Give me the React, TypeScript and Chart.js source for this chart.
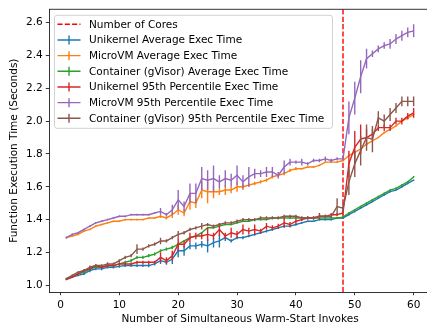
import React, { useEffect, useRef } from "react";
import { Chart, registerables } from "chart.js";

Chart.register(...registerables);

const INVOKES = [
  1, 2, 3, 4, 5, 6, 7, 8, 9, 10, 11, 12, 13, 14, 15, 16, 17, 18, 19, 20,
  21, 22, 23, 24, 25, 26, 27, 28, 29, 30, 31, 32, 33, 34, 35, 36, 37, 38, 39, 40,
  41, 42, 43, 44, 45, 46, 47, 48, 49, 50, 51, 52, 53, 54, 55, 56, 57, 58, 59, 60,
];

const NUM_CORES = 48;

const UNIKERNEL_AVG = [
  1.04, 1.05, 1.06, 1.07, 1.09, 1.1, 1.1, 1.11, 1.11, 1.115, 1.12, 1.12, 1.12, 1.12, 1.12, 1.13, 1.15, 1.14, 1.16, 1.21,
  1.21, 1.24, 1.24, 1.25, 1.24, 1.26, 1.27, 1.29, 1.27, 1.29, 1.29, 1.3, 1.31, 1.32, 1.33, 1.34, 1.35, 1.36, 1.36, 1.37,
  1.38, 1.39, 1.39, 1.4, 1.4, 1.4, 1.41, 1.41, 1.43, 1.45, 1.47, 1.49, 1.51, 1.53, 1.55, 1.57, 1.58, 1.6, 1.62, 1.64,
];
const UNIKERNEL_AVG_ERR = [
  0.005, 0.005, 0.005, 0.008, 0.01, 0.008, 0.008, 0.008, 0.008, 0.008, 0.008, 0.008, 0.008, 0.008, 0.01, 0.01, 0.02, 0.015, 0.03, 0.04,
  0.03, 0.02, 0.02, 0.02, 0.04, 0.03, 0.04, 0.02, 0.01, 0.01, 0.01, 0.008, 0.008, 0.008, 0.008, 0.008, 0.008, 0.008, 0.008, 0.008,
  0.005, 0.005, 0.005, 0.005, 0.005, 0.005, 0.005, 0.005, 0.005, 0.005, 0.005, 0.005, 0.005, 0.005, 0.005, 0.005, 0.005, 0.005, 0.005, 0.005,
];

const MICROVM_AVG = [
  1.29, 1.3, 1.31, 1.33, 1.34, 1.36, 1.37, 1.38, 1.39, 1.39, 1.4, 1.4, 1.4, 1.4, 1.41, 1.41, 1.42, 1.41, 1.43, 1.46,
  1.44, 1.51, 1.5, 1.58, 1.57, 1.57, 1.57, 1.58, 1.58, 1.6, 1.6, 1.61, 1.62, 1.63, 1.64, 1.66, 1.67, 1.68, 1.7, 1.71,
  1.71, 1.72, 1.72, 1.73, 1.75, 1.75, 1.75, 1.76, 1.79, 1.81, 1.83, 1.86, 1.88, 1.9, 1.93, 1.95, 1.97, 2.0, 2.02, 2.04,
];
const MICROVM_AVG_ERR = [
  0.005, 0.005, 0.005, 0.005, 0.005, 0.005, 0.005, 0.005, 0.005, 0.005, 0.005, 0.005, 0.005, 0.005, 0.005, 0.005, 0.01, 0.01, 0.02, 0.03,
  0.02, 0.05, 0.03, 0.05, 0.07, 0.04, 0.02, 0.03, 0.02, 0.03, 0.02, 0.01, 0.01, 0.01, 0.01, 0.01, 0.01, 0.01, 0.01, 0.01,
  0.005, 0.005, 0.005, 0.005, 0.005, 0.005, 0.005, 0.005, 0.005, 0.005, 0.005, 0.005, 0.005, 0.005, 0.005, 0.005, 0.005, 0.005, 0.005, 0.005,
];

const CONTAINER_AVG = [
  1.04, 1.05, 1.07, 1.08, 1.1, 1.11, 1.11, 1.12, 1.12, 1.13, 1.14, 1.15, 1.17, 1.17, 1.18, 1.19, 1.21, 1.22, 1.23, 1.25,
  1.27, 1.29, 1.3, 1.32, 1.35, 1.35, 1.36, 1.37, 1.37, 1.38, 1.39, 1.39, 1.4, 1.4, 1.4, 1.41, 1.41, 1.41, 1.41, 1.41,
  1.41, 1.41, 1.41, 1.41, 1.41, 1.41, 1.41, 1.415, 1.44, 1.46, 1.48, 1.5, 1.52, 1.54, 1.56, 1.58, 1.59, 1.61, 1.63, 1.66,
];
const CONTAINER_AVG_ERR = [
  0.005, 0.005, 0.005, 0.005, 0.005, 0.005, 0.005, 0.005, 0.008, 0.01, 0.01, 0.01, 0.01, 0.01, 0.01, 0.01, 0.01, 0.01, 0.01, 0.01,
  0.005, 0.005, 0.005, 0.005, 0.005, 0.005, 0.005, 0.005, 0.005, 0.005, 0.005, 0.005, 0.005, 0.005, 0.005, 0.005, 0.005, 0.005, 0.005, 0.005,
  0.005, 0.005, 0.005, 0.005, 0.005, 0.005, 0.005, 0.005, 0.005, 0.005, 0.005, 0.005, 0.005, 0.005, 0.005, 0.005, 0.005, 0.005, 0.005, 0.005,
];

const UNIKERNEL_P95 = [
  1.035, 1.05, 1.07, 1.09, 1.1, 1.12, 1.11, 1.12, 1.12, 1.13, 1.13, 1.13, 1.14, 1.14, 1.14, 1.14, 1.17, 1.15, 1.18, 1.25,
  1.25, 1.29, 1.3, 1.3, 1.31, 1.3, 1.34, 1.3, 1.32, 1.31, 1.34, 1.33, 1.34, 1.33, 1.36, 1.35, 1.36, 1.38, 1.37, 1.39,
  1.4, 1.41, 1.41, 1.42, 1.42, 1.43, 1.43, 1.44, 1.74, 1.84, 1.89, 1.9, 1.92, 1.96, 1.96, 1.96, 2.0, 2.0, 2.03, 2.05,
];
const UNIKERNEL_P95_ERR = [
  0.005, 0.005, 0.005, 0.008, 0.008, 0.008, 0.008, 0.008, 0.008, 0.008, 0.008, 0.008, 0.01, 0.01, 0.01, 0.01, 0.03, 0.02, 0.03, 0.04,
  0.02, 0.03, 0.02, 0.02, 0.04, 0.02, 0.04, 0.02, 0.03, 0.02, 0.03, 0.02, 0.03, 0.015, 0.02, 0.015, 0.015, 0.03, 0.015, 0.015,
  0.01, 0.01, 0.01, 0.02, 0.01, 0.01, 0.01, 0.01, 0.08, 0.1, 0.09, 0.05, 0.03, 0.02, 0.02, 0.02, 0.02, 0.02, 0.02, 0.03,
];

const MICROVM_P95 = [
  1.29, 1.31, 1.32, 1.34, 1.36, 1.38, 1.39, 1.4, 1.41, 1.42, 1.42, 1.43, 1.43, 1.43, 1.43, 1.44, 1.45, 1.43, 1.46, 1.52,
  1.48, 1.56, 1.56, 1.65, 1.64, 1.65, 1.63, 1.65, 1.64, 1.67, 1.63, 1.66, 1.68, 1.68, 1.69, 1.69, 1.67, 1.72, 1.75, 1.75,
  1.75, 1.74, 1.76, 1.76, 1.77, 1.76, 1.77, 1.77, 2.02, 2.14, 2.27, 2.38, 2.41, 2.44, 2.46, 2.47, 2.5, 2.52, 2.54, 2.55,
];
const MICROVM_P95_ERR = [
  0.005, 0.005, 0.005, 0.005, 0.005, 0.005, 0.005, 0.005, 0.005, 0.005, 0.005, 0.005, 0.005, 0.005, 0.005, 0.005, 0.02, 0.01, 0.03, 0.06,
  0.03, 0.06, 0.06, 0.07, 0.06, 0.08, 0.04, 0.05, 0.04, 0.06, 0.04, 0.06, 0.03, 0.02, 0.03, 0.03, 0.02, 0.04, 0.02, 0.01,
  0.02, 0.01, 0.01, 0.01, 0.015, 0.01, 0.01, 0.01, 0.1, 0.1, 0.1, 0.06, 0.02, 0.02, 0.02, 0.03, 0.03, 0.03, 0.03, 0.04,
];

const CONTAINER_P95 = [
  1.04, 1.06, 1.08, 1.09, 1.11, 1.12, 1.12, 1.13, 1.13, 1.15, 1.17, 1.18, 1.22, 1.22, 1.24, 1.25, 1.27, 1.27, 1.29, 1.31,
  1.32, 1.34, 1.35, 1.36, 1.37, 1.36, 1.37, 1.38, 1.38, 1.39, 1.4, 1.4, 1.4, 1.41, 1.41, 1.41, 1.41, 1.42, 1.42, 1.42,
  1.41, 1.41, 1.41, 1.42, 1.42, 1.42, 1.48, 1.47, 1.63, 1.74, 1.82, 1.9, 1.89, 2.02, 2.0, 2.04, 2.08, 2.12, 2.12, 2.12,
];
const CONTAINER_P95_ERR = [
  0.005, 0.005, 0.005, 0.008, 0.01, 0.008, 0.008, 0.01, 0.008, 0.008, 0.01, 0.01, 0.03, 0.01, 0.01, 0.01, 0.02, 0.01, 0.01, 0.02,
  0.01, 0.01, 0.01, 0.02, 0.01, 0.01, 0.01, 0.01, 0.01, 0.01, 0.01, 0.01, 0.01, 0.01, 0.01, 0.01, 0.01, 0.01, 0.01, 0.01,
  0.01, 0.01, 0.01, 0.01, 0.01, 0.01, 0.05, 0.03, 0.08, 0.08, 0.09, 0.08, 0.08, 0.04, 0.04, 0.04, 0.03, 0.03, 0.03, 0.03,
];

const X_TICKS = [0, 10, 20, 30, 40, 50, 60];
const Y_TICKS = [1.0, 1.2, 1.4, 1.6, 1.8, 2.0, 2.2, 2.4, 2.6];

const SERIES = [
  { label: "Unikernel Average Exec Time", color: "#1f77b4", values: UNIKERNEL_AVG, errors: UNIKERNEL_AVG_ERR },
  { label: "MicroVM Average Exec Time", color: "#ff7f0e", values: MICROVM_AVG, errors: MICROVM_AVG_ERR },
  { label: "Container (gVisor) Average Exec Time", color: "#2ca02c", values: CONTAINER_AVG, errors: CONTAINER_AVG_ERR },
  { label: "Unikernel 95th Percentile Exec Time", color: "#d62728", values: UNIKERNEL_P95, errors: UNIKERNEL_P95_ERR },
  { label: "MicroVM 95th Percentile Exec Time", color: "#9467bd", values: MICROVM_P95, errors: MICROVM_P95_ERR },
  { label: "Container (gVisor) 95th Percentile Exec Time", color: "#8c564b", values: CONTAINER_P95, errors: CONTAINER_P95_ERR },
];

const FONT = "'DejaVu Sans', sans-serif";
const FONT_SIZE = 10.5;
const LW = 1.4;

const errorBarPlugin = {
  id: "errorBars",
  afterDatasetDraw(chart: any, args: any) {
    const ds = chart.data.datasets[args.index];
    const errs = ds.errors;
    if (!errs) return;
    const { ctx, chartArea, scales } = chart;
    ctx.save();
    ctx.beginPath();
    ctx.rect(chartArea.left, chartArea.top, chartArea.right - chartArea.left, chartArea.bottom - chartArea.top);
    ctx.clip();
    ctx.strokeStyle = ds.borderColor;
    ctx.lineWidth = LW;
    ctx.beginPath();
    ds.data.forEach((p: any, i: number) => {
      const px = scales.x.getPixelForValue(p.x);
      ctx.moveTo(px, scales.y.getPixelForValue(p.y - errs[i]));
      ctx.lineTo(px, scales.y.getPixelForValue(p.y + errs[i]));
    });
    ctx.stroke();
    ctx.restore();
  },
};

const coresLinePlugin = {
  id: "coresLine",
  beforeDatasetsDraw(chart: any) {
    const { ctx, chartArea, scales } = chart;
    const px = scales.x.getPixelForValue(NUM_CORES);
    ctx.save();
    ctx.strokeStyle = "#ff0000";
    ctx.lineWidth = LW;
    ctx.setLineDash([5.1, 2.2]);
    ctx.beginPath();
    ctx.moveTo(px, chartArea.bottom);
    ctx.lineTo(px, chartArea.top);
    ctx.stroke();
    ctx.restore();
  },
};

const framePlugin = {
  id: "frame",
  afterDatasetsDraw(chart: any) {
    const { ctx, chartArea } = chart;
    ctx.save();
    ctx.strokeStyle = "#000";
    ctx.lineWidth = 0.8;
    ctx.beginPath();
    ctx.moveTo(chartArea.left, chartArea.top);
    ctx.lineTo(chartArea.right, chartArea.top);
    ctx.lineTo(chartArea.right, chartArea.bottom);
    ctx.stroke();
    ctx.restore();
  },
};

const legendPlugin = {
  id: "mplLegend",
  afterDraw(chart: any) {
    const { ctx, chartArea } = chart;
    const items = [
      { text: "Number of Cores", color: "#ff0000", dashed: true },
      ...chart.data.datasets.map((d: any) => ({ text: d.label, color: d.borderColor, dashed: false })),
    ];
    const x0 = chartArea.left + 5.5;
    const y0 = chartArea.top + 6;
    const w = 278;
    const h = 113;
    const r = 2.5;
    ctx.save();
    ctx.beginPath();
    ctx.moveTo(x0 + r, y0);
    ctx.lineTo(x0 + w - r, y0);
    ctx.arcTo(x0 + w, y0, x0 + w, y0 + r, r);
    ctx.lineTo(x0 + w, y0 + h - r);
    ctx.arcTo(x0 + w, y0 + h, x0 + w - r, y0 + h, r);
    ctx.lineTo(x0 + r, y0 + h);
    ctx.arcTo(x0, y0 + h, x0, y0 + h - r, r);
    ctx.lineTo(x0, y0 + r);
    ctx.arcTo(x0, y0, x0 + r, y0, r);
    ctx.closePath();
    ctx.fillStyle = "rgba(255,255,255,0.8)";
    ctx.fill();
    ctx.strokeStyle = "#cccccc";
    ctx.lineWidth = 0.9;
    ctx.stroke();

    ctx.font = `${FONT_SIZE}px ${FONT}`;
    ctx.textBaseline = "middle";
    ctx.textAlign = "left";
    items.forEach((it: any, i: number) => {
      const cy = y0 + 9 + i * 15.67;
      const hx0 = x0 + 3;
      const hx1 = x0 + 26;
      ctx.strokeStyle = it.color;
      ctx.lineWidth = LW;
      ctx.setLineDash(it.dashed ? [5.1, 2.2] : []);
      ctx.beginPath();
      ctx.moveTo(hx0, cy);
      ctx.lineTo(hx1, cy);
      if (!it.dashed) {
        const mx = (hx0 + hx1) / 2;
        ctx.moveTo(mx, cy - 4.5);
        ctx.lineTo(mx, cy + 4.5);
      }
      ctx.stroke();
      ctx.setLineDash([]);
      ctx.fillStyle = "#000";
      ctx.fillText(it.text, x0 + 34.5, cy + 0.5);
    });
    ctx.restore();
  },
};

export default function App() {
  const ref = useRef<HTMLCanvasElement | null>(null);

  useEffect(() => {
    if (!ref.current) return;
    Chart.defaults.font.family = FONT;
    Chart.defaults.font.size = FONT_SIZE;
    Chart.defaults.color = "#000";

    const datasets = SERIES.map((s, k) => ({
      label: s.label,
      data: INVOKES.map((x, i) => ({ x, y: s.values[i] })),
      errors: s.errors,
      borderColor: s.color,
      backgroundColor: s.color,
      borderWidth: LW,
      pointRadius: 0,
      tension: 0,
      fill: false,
      order: SERIES.length - k,
    }));

    const chart = new Chart(ref.current, {
      type: "line",
      data: { datasets } as any,
      options: {
        animation: false,
        responsive: false,
        maintainAspectRatio: false,
        layout: { padding: { top: 7, right: 1, left: 0, bottom: 0 } },
        plugins: { legend: { display: false }, tooltip: { enabled: false } },
        scales: {
          x: {
            type: "linear",
            min: -1.95,
            max: 62.95,
            afterBuildTicks: (sc: any) => {
              sc.ticks = X_TICKS.map((v) => ({ value: v }));
            },
            afterFit: (sc: any) => {
              sc.height = 37;
            },
            grid: { drawOnChartArea: false, drawTicks: true, tickLength: 3.2, tickWidth: 0.8, tickColor: "#000" },
            border: { display: true, color: "#000", width: 0.8 },
            ticks: { padding: 3.5, maxRotation: 0, autoSkip: false, color: "#000", font: { size: FONT_SIZE, family: FONT } },
            title: {
              display: true,
              text: "Number of Simultaneous Warm-Start Invokes",
              color: "#000",
              font: { size: FONT_SIZE, family: FONT },
              padding: { top: 2, bottom: 3.5 },
            },
          },
          y: {
            type: "linear",
            min: 0.959,
            max: 2.681,
            afterBuildTicks: (sc: any) => {
              sc.ticks = Y_TICKS.map((v) => ({ value: v }));
            },
            afterFit: (sc: any) => {
              sc.width = 49;
            },
            grid: { drawOnChartArea: false, drawTicks: true, tickLength: 3.2, tickWidth: 0.8, tickColor: "#000" },
            border: { display: true, color: "#000", width: 0.8 },
            ticks: {
              padding: 3,
              color: "#000",
              font: { size: FONT_SIZE, family: FONT },
              callback: (v: any) => Number(v).toFixed(1),
            },
            title: {
              display: true,
              text: "Function Execution Time (Seconds)",
              color: "#000",
              font: { size: FONT_SIZE, family: FONT },
              padding: { top: 8, bottom: 0 },
            },
          },
        },
      },
      plugins: [coresLinePlugin, errorBarPlugin, framePlugin, legendPlugin],
    } as any);

    return () => chart.destroy();
  }, []);

  return (
    <div style={{ position: "absolute", left: 0, top: 0, width: 427, height: 329, overflow: "hidden", background: "#fff" }}>
      <canvas ref={ref} width={432} height={329} style={{ width: 432, height: 329, display: "block" }} />
    </div>
  );
}
